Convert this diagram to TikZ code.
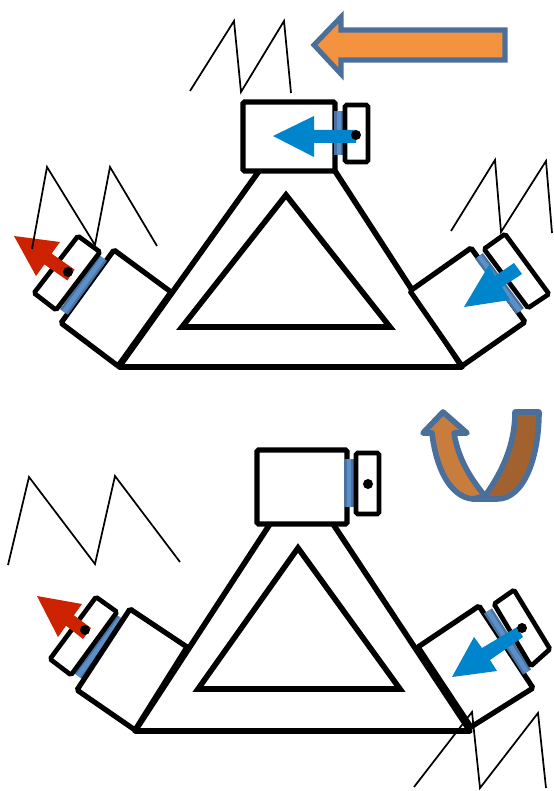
\documentclass[tikz,border=0pt]{standalone}
\usepackage{tikz}
\definecolor{barfill}{HTML}{5B8FC7}
\definecolor{baredge}{HTML}{4A72A0}
\definecolor{bluearr}{HTML}{0085CC}
\definecolor{redarr}{HTML}{CC2200}
\definecolor{orangearr}{HTML}{F39340}
\definecolor{uorange}{HTML}{C97D3D}
\definecolor{ubrown}{HTML}{A2622F}
\definecolor{arredge}{HTML}{4A6F9A}

\begin{document}
\begin{tikzpicture}[
  x=0.75pt, y=-0.75pt,
  frame/.style={draw=black, line width=4.2pt, line join=miter},
  camera/.style={draw=black, fill=white, line width=3.9pt, rounded corners=1.2pt},
  lens/.style={draw=black, fill=white, line width=3.5pt, rounded corners=1.2pt},
  lensbar/.style={draw=baredge, double=barfill, double distance=3.6pt, line width=1.8pt},
  zigzag/.style={draw=black, line width=1.3pt, line join=miter},
  dotmark/.style={circle, fill=black, inner sep=0pt, minimum size=7.5pt},
  bluehead/.style={fill=bluearr, draw=none},
  redhead/.style={fill=redarr, draw=none},
  motion/.style={draw=arredge, line width=3.8pt, line join=miter},
  turn/.style={draw=arredge, line width=4.2pt, line join=round}
]
\useasboundingbox (0,0) rectangle (553,791);

%% Upper frame
\draw[frame, line join=round] (259,171) -- (119,367) -- (462,367) -- (335,171);
\draw[frame] (182,327) -- (390,327) -- (286,195) -- cycle;

%% Upper cameras
\draw[camera] (243,102) rectangle (335,171);
\draw[camera] (114,250) -- (171,292) -- (118,366) -- (61,323) -- cycle;
\draw[camera] (471,248) -- (525,322) -- (462,366) -- (410,291) -- cycle;

%% Upper bars
\draw[lensbar] (339,111) -- (339,155);
\draw[lensbar] (103,258) -- (64,312);
\draw[lensbar] (479,256) -- (520,311);

%% Upper lenses
\draw[lens] (345,105) rectangle (368,162);
\draw[lens] (78,236) -- (100,252) -- (56,310) -- (34,293) -- cycle;
\draw[lens] (505,234) -- (549,294) -- (528,308) -- (484,249) -- cycle;

%% Upper arrows
\fill[bluehead] (273,136) -- (314,116) -- (314,130) -- (356,130) -- (356,143) -- (314,143) -- (314,157) -- cycle;
\fill[redhead] (14,236) -- (60,242) -- (51.6,253.6) -- (74.6,269.6) -- (67.4,280.4) -- (44.4,264.4) -- (36,276) -- cycle;
\fill[bluehead] (464,307) -- (489,265) -- (495,276) -- (514,263) -- (522,274) -- (502,287) -- (510,300) -- cycle;
\node[dotmark] (dottop) at (356,135) {};
\node[dotmark] (dotleft) at (68,272) {};

%% Upper sweep arrow
\filldraw[motion, fill=orangearr] (314,45) -- (341,17) -- (341,30) -- (505,30) -- (505,60) -- (341,60) -- (341,74) -- cycle;

%% Lower frame
\draw[frame, line join=round] (270,524) -- (135,731) -- (470,731) -- (333,524);
\draw[frame] (198,689) -- (400,689) -- (298,548) -- cycle;

%% Lower bar behind its camera
\draw[lensbar] (121,618) -- (78,676);

%% Lower cameras
\draw[camera] (257,450) rectangle (347,524);
\draw[camera] (130,609) -- (187,647) -- (135,730) -- (77,690) -- cycle;
\draw[camera] (479,606) -- (533,688) -- (471,727) -- (418,647) -- cycle;

%% Lower bars
\draw[lensbar] (349,459) -- (349,507);
\draw[lensbar] (488,611) -- (527,672);

%% Lower lenses
\draw[lens] (356,453) rectangle (379,514);
\draw[lens] (96,597) -- (117,612) -- (71,675) -- (50,659) -- cycle;
\draw[lens] (514,590) -- (550,649) -- (531,666) -- (494,604) -- cycle;

%% Lower arrows
\fill[redhead] (37,596) -- (82,604) -- (73.9,615.3) -- (91,628) -- (83,639) -- (66.1,625.7) -- (58,637) -- cycle;
\fill[bluehead] (452,677) -- (474,637) -- (482,648) -- (517,627) -- (523,637) -- (490,660) -- (497,671) -- cycle;
\node[dotmark] (dotfront) at (368,484) {};
\node[dotmark] (dotrear) at (85,630) {};
\node[dotmark] (dotright) at (522,628) {};

%% Lower turn arrow
\filldraw[turn, fill=ubrown] (485,496) .. controls (502,472) and (515,445) .. (515,412)
  -- (539,412) .. controls (539,455) and (525,499) .. (497,499) -- (473,499) -- cycle;
\filldraw[turn, fill=uorange] (443,412) -- (467,433) -- (454,433)
  .. controls (458,458) and (470,478) .. (485,496) -- (473,499)
  .. controls (450,497) and (436,468) .. (432,433) -- (423,433) -- cycle;

%% Zigzags
\draw[zigzag] (190,91) -- (234,21) -- (241,92) -- (284,21) -- (291,93);
\draw[zigzag] (32,249) -- (47,167) -- (95,245) -- (110,167) -- (157,246);
\draw[zigzag] (451,231) -- (495,160) -- (501,232) -- (546,161) -- (552,233);
\draw[zigzag] (8,565) -- (29,477) -- (95,564) -- (115,476) -- (180,562);
\draw[zigzag] (414,787) -- (472,712) -- (480,788) -- (538,713) -- (546,788);
\end{tikzpicture}
\end{document}
